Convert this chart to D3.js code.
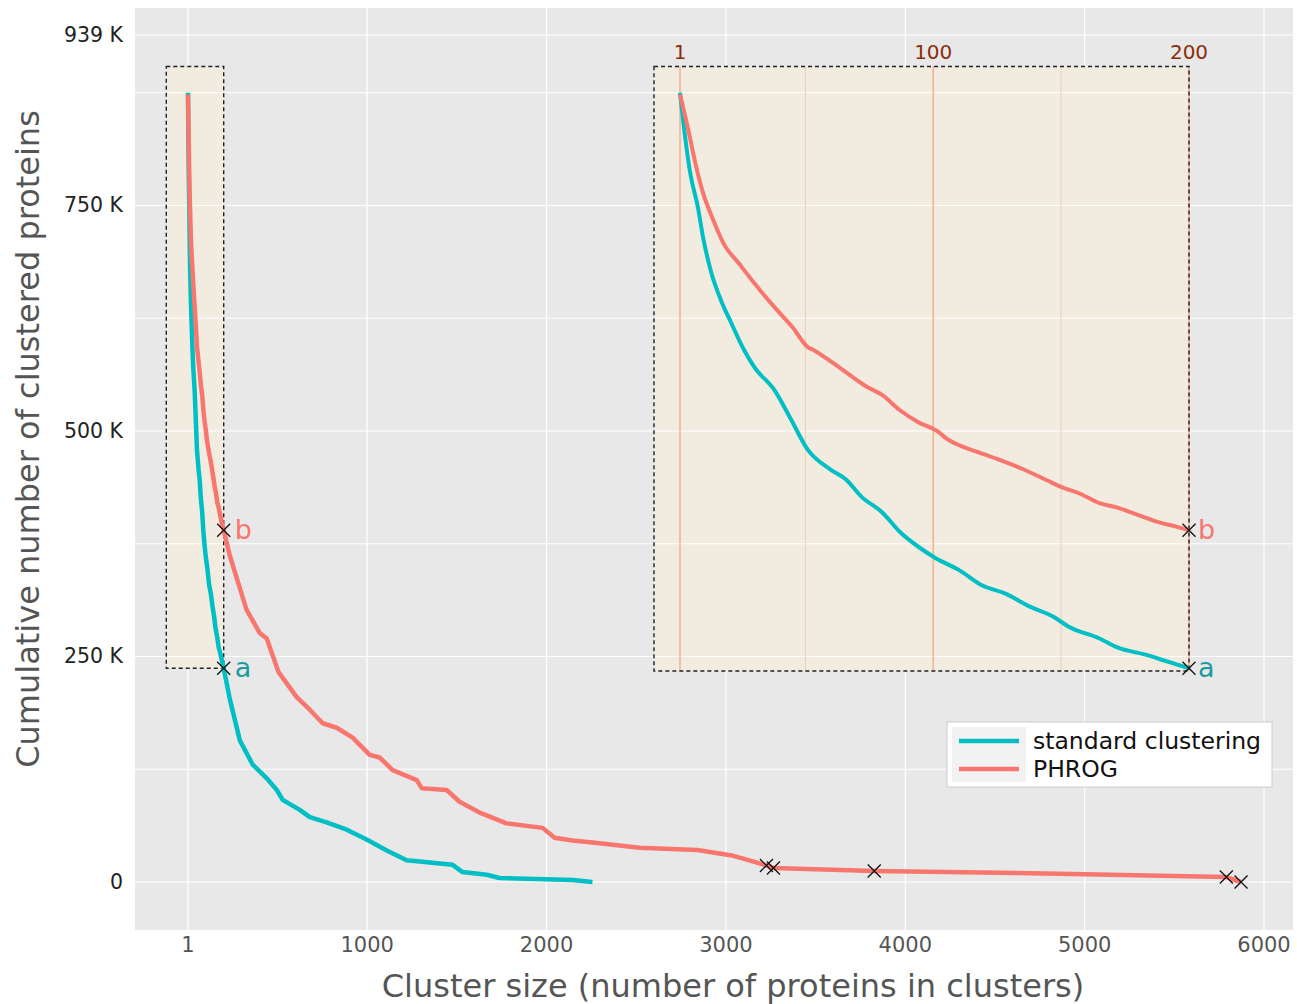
<!DOCTYPE html>
<html>
<head>
<meta charset="utf-8">
<script src="https://d3js.org/d3.v7.min.js"></script>
<style>
  body { margin: 0; background: #fff; }
  text { font-family: "DejaVu Sans", sans-serif; }
</style>
</head>
<body>
<svg id="chart" width="1297" height="1004"></svg>
<script>
// cluster size (x) and cumulative number of clustered proteins, in thousands (y)
var standardSize = [1, 3, 5, 8, 10, 13, 17, 21, 26, 30, 38, 44, 51, 60, 66, 72, 80, 87, 95, 101,
  110, 119, 128, 138, 147, 153, 165, 172, 183, 192, 200,
  234, 290, 362, 440, 496, 529, 624, 680, 774, 886, 997, 1109, 1220, 1476, 1532, 1666, 1738, 2145, 2256];
var standardCum = [875, 826, 786, 748, 715, 678, 645, 620, 590, 571, 545, 515, 479, 457, 446, 427, 410, 388, 370, 359,
  346, 329, 320, 305, 294, 283, 270, 260, 252, 244, 237,
  203, 157, 130, 115, 102, 91, 80, 72, 66, 58, 47, 35, 24, 19, 11, 8, 4.4, 2.2, 0];

var phrogSize = [1, 4, 7, 10, 14, 18, 24, 30, 38, 45, 51, 53, 63, 74, 80, 87, 94, 102, 105, 117,
  126, 134, 144, 150, 157, 165, 172, 180, 188, 195, 200,
  234, 271, 327, 401, 440, 505, 607, 680, 752, 830, 919, 1014, 1070, 1142, 1276, 1304, 1443, 1515,
  1627, 1777, 1978, 2045, 2145, 2295, 2518, 2841, 3042, 3164, 3226, 3265, 3827, 4780, 5790, 5872];
var phrogCum = [873, 837, 797, 764, 734, 708, 686, 664, 637, 615, 593, 590, 571, 549, 540, 523, 510, 499, 492, 477,
  468, 459, 446, 438, 431, 420, 415, 407, 399, 394, 390,
  362, 338, 302, 276, 270, 233, 205, 191, 176, 171, 160, 141, 138, 124, 113, 104, 102, 89,
  77, 65, 60, 49, 46, 43, 38, 35.5, 29, 22, 18.3, 15.5, 12.2, 9.4, 5.5, 0];

// largest PHROG clusters, marked with a cross
var phrogMarked = [3226, 3265, 3827, 5790, 5872];

var xTicks = [1, 1000, 2000, 3000, 4000, 5000, 6000];
var yTicks = [0, 250, 500, 750, 939];
var yTickLabels = ["0", "250 K", "500 K", "750 K", "939 K"];
var yGrid = [0, 125, 250, 375, 500, 625, 750, 875, 939];
var insetTicks = [1, 50, 100, 150, 200];
var insetLabels = [1, 100, 200];

var seriesNames = ["standard clustering", "PHROG"];
var seriesColors = ["#00BFC4", "#F8766D"];
var zoomMax = 200;

function zip(xs, ys) {
  return xs.map(function(x, i) { return {x: x, y: ys[i]}; });
}
var standard = zip(standardSize, standardCum);
var phrog = zip(phrogSize, phrogCum);

var svg = d3.select("#chart");
var panel = {left: 135, right: 1293, top: 8, bottom: 930};

var x = d3.scaleLinear().domain([1, 6000]).range([188, 1264]);
var y = d3.scaleLinear().domain([0, 939]).range([882, 35]);

// inset: zoom on the 200 first sizes, same y scale
var inset = {left: 654, right: 1189, top: y(904), bottom: y(234)};
var xi = d3.scaleLinear().domain([1, 200]).range([680, 1189]);

svg.append("rect")
    .attr("x", panel.left).attr("y", panel.top)
    .attr("width", panel.right - panel.left).attr("height", panel.bottom - panel.top)
    .attr("fill", "#E8E8E8");

// vertical grid (hidden by the zoom boxes)
svg.append("g").selectAll("line")
    .data(xTicks).enter().append("line")
    .attr("x1", function(d) { return x(d); }).attr("x2", function(d) { return x(d); })
    .attr("y1", panel.top).attr("y2", panel.bottom)
    .attr("stroke", "#fff").attr("stroke-width", 1.2);

var boxFill = "#F2EBE0";
// zoom area in the main plot
var zoomBox = {x0: x(-120), x1: x(zoomMax), y0: y(904), y1: y(237)};
svg.append("rect")
    .attr("x", zoomBox.x0).attr("y", zoomBox.y0)
    .attr("width", zoomBox.x1 - zoomBox.x0).attr("height", zoomBox.y1 - zoomBox.y0)
    .attr("fill", boxFill);
svg.append("rect")
    .attr("x", inset.left).attr("y", inset.top)
    .attr("width", inset.right - inset.left).attr("height", inset.bottom - inset.top)
    .attr("fill", boxFill);

// horizontal grid
svg.append("g").selectAll("line")
    .data(yGrid).enter().append("line")
    .attr("x1", panel.left).attr("x2", panel.right)
    .attr("y1", function(d) { return y(d); }).attr("y2", function(d) { return y(d); })
    .attr("stroke", "#fff").attr("stroke-width", 1.2);

// inset vertical grid
svg.append("g").selectAll("line")
    .data(insetTicks).enter().append("line")
    .attr("x1", function(d) { return xi(d); }).attr("x2", function(d) { return xi(d); })
    .attr("y1", inset.top).attr("y2", inset.bottom)
    .attr("stroke", function(d) { return d % 100 === 0 || d === 1 ? "#F2B091" : "#EFCDB8"; })
    .attr("stroke-width", function(d) { return d % 100 === 0 || d === 1 ? 1.5 : 1; });

svg.append("g").selectAll("text")
    .data(insetLabels).enter().append("text")
    .attr("x", function(d) { return xi(d); })
    .attr("y", 59)
    .attr("text-anchor", "middle")
    .attr("font-size", 20)
    .attr("fill", "#8C2D0A")
    .text(function(d) { return d; });

// dashed borders of both boxes
[[zoomBox.x0, zoomBox.y0, zoomBox.x1, zoomBox.y1], [inset.left, inset.top, inset.right, inset.bottom]].forEach(function(b) {
  svg.append("rect")
      .attr("x", b[0]).attr("y", b[1])
      .attr("width", b[2] - b[0]).attr("height", b[3] - b[1])
      .attr("fill", "none")
      .attr("stroke", "#222").attr("stroke-width", 1.4)
      .attr("stroke-dasharray", "4,3");
});

// main curves
var line = d3.line().x(function(d) { return x(d.x); }).y(function(d) { return y(d.y); });
var lineInset = d3.line().curve(d3.curveMonotoneX)
    .x(function(d) { return xi(d.x); }).y(function(d) { return y(d.y); });

[standard, phrog].forEach(function(s, i) {
  svg.append("path").datum(s)
      .attr("d", line)
      .attr("fill", "none")
      .attr("stroke", seriesColors[i])
      .attr("stroke-width", 4.5)
      .attr("stroke-linejoin", "round");
});
[standard, phrog].forEach(function(s, i) {
  svg.append("path").datum(s.filter(function(d) { return d.x <= zoomMax; }))
      .attr("d", lineInset)
      .attr("fill", "none")
      .attr("stroke", seriesColors[i])
      .attr("stroke-width", 4)
      .attr("stroke-linejoin", "round");
});

function cross(px, py) {
  svg.append("path")
      .attr("d", "M-6.5,-6.5L6.5,6.5M-6.5,6.5L6.5,-6.5")
      .attr("transform", "translate(" + px + "," + py + ")")
      .attr("stroke", "#111").attr("stroke-width", 1.3).attr("fill", "none");
}

phrog.filter(function(d) { return phrogMarked.indexOf(d.x) >= 0; })
    .forEach(function(d) { cross(x(d.x), y(d.y)); });

// a / b marks at size 200, in both views
var endA = standard.filter(function(d) { return d.x === zoomMax; })[0];
var endB = phrog.filter(function(d) { return d.x === zoomMax; })[0];
[[endA, "a", "#1A9CA1"], [endB, "b", seriesColors[1]]].forEach(function(m) {
  [[x(m[0].x), 11], [xi(m[0].x), 9]].forEach(function(p) {
    cross(p[0], y(m[0].y));
    svg.append("text")
        .attr("x", p[0] + p[1]).attr("y", y(m[0].y) + 9)
        .attr("font-size", 27)
        .attr("fill", m[2])
        .text(m[1]);
  });
});

// axes labels
svg.append("g").selectAll("text")
    .data(xTicks).enter().append("text")
    .attr("x", function(d) { return x(d); })
    .attr("y", 952)
    .attr("text-anchor", "middle")
    .attr("font-size", 21)
    .attr("fill", "#555")
    .text(function(d) { return d; });

svg.append("g").selectAll("text")
    .data(yTicks).enter().append("text")
    .attr("x", 123)
    .attr("y", function(d) { return y(d) + 7; })
    .attr("text-anchor", "end")
    .attr("font-size", 20.5)
    .attr("fill", "#222")
    .text(function(d, i) { return yTickLabels[i]; });

svg.append("text")
    .attr("x", 733).attr("y", 997)
    .attr("text-anchor", "middle")
    .attr("font-size", 32)
    .attr("fill", "#555")
    .text("Cluster size (number of proteins in clusters)");

svg.append("text")
    .attr("transform", "translate(39,439) rotate(-90)")
    .attr("text-anchor", "middle")
    .attr("font-size", 32)
    .attr("fill", "#555")
    .text("Cumulative number of clustered proteins");

// legend
var legend = svg.append("g").attr("transform", "translate(947,722)");
legend.append("rect")
    .attr("width", 325).attr("height", 65)
    .attr("fill", "#fff").attr("stroke", "#ccc").attr("stroke-width", 1);
legend.append("rect")
    .attr("x", 5).attr("y", 5).attr("width", 74).attr("height", 55)
    .attr("fill", "#F2F2F2");
seriesNames.forEach(function(name, i) {
  var ly = 19 + i * 28;
  legend.append("line")
      .attr("x1", 12).attr("x2", 72).attr("y1", ly).attr("y2", ly)
      .attr("stroke", seriesColors[i]).attr("stroke-width", 4.5);
  legend.append("text")
      .attr("x", 86).attr("y", ly + 8)
      .attr("font-size", 23.5)
      .attr("fill", "#111")
      .text(name);
});
</script>
</body>
</html>
